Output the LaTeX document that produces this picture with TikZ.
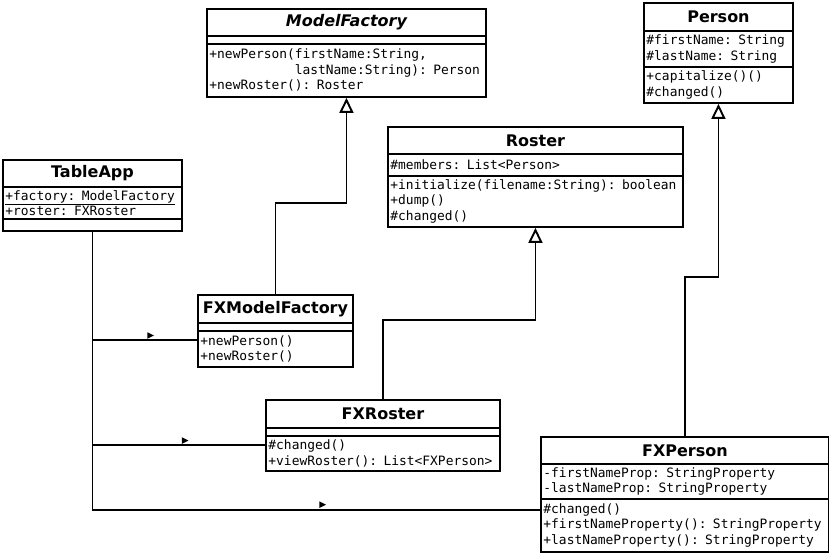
\documentclass[tikz,border=0pt]{standalone}
\usepackage{fontspec}
\setmainfont{DejaVu Sans}
\setmonofont{DejaVu Sans Mono}
\usetikzlibrary{arrows.meta,shapes.geometric}

\newcommand{\ctitle}{\fontsize{16}{18}\selectfont\bfseries}
\newcommand{\cmember}{\fontsize{12.9}{15.5}\selectfont\ttfamily}

\begin{document}
\begin{tikzpicture}[x=1pt,y=-1pt]
    \tikzstyle{compart}=[draw, line width=1.9pt, anchor=north west, inner xsep=2.5pt, inner ysep=0pt]
    \tikzstyle{classname}=[compart, font=\ctitle, align=center]
    \tikzstyle{members}=[compart, font=\cmember, align=left]
    \tikzstyle{conn}=[line width=1.9pt]
    \tikzstyle{inherit}=[conn, -{Triangle[open, fill=white, length=15pt, width=14pt]}]
    \tikzstyle{dirmark}=[isosceles triangle, fill=black, inner sep=0pt, minimum height=6.5pt, minimum width=6.5pt, isosceles triangle stretches]
    \useasboundingbox (0,0) rectangle (829,553);
    % ModelFactory
    \node[classname, text width=274pt, minimum height=27pt] (mfName) at (206,8) {\itshape ModelFactory};
    \node[members, text width=274pt, minimum height=8pt] (mfAttr) at (206,35) {};
    \node[members, text width=274pt, minimum height=53pt] (mfOps) at (206,43) {+newPerson(firstName:String,\\\phantom{+newPerson(}lastName:String): Person\\+newRoster(): Roster};
    % Person
    \node[classname, text width=144pt, minimum height=28pt] (pName) at (643,2) {Person};
    \node[members, text width=144pt, minimum height=36pt] (pAttr) at (643,30) {\#firstName: String\\\#lastName: String};
    \node[members, text width=144pt, minimum height=36pt] (pOps) at (643,66) {+capitalize()()\\\#changed()};
    % TableApp
    \node[classname, text width=174pt, minimum height=27pt] (taName) at (2,159) {TableApp};
    \node[members, text width=174pt, minimum height=32pt] (taAttr) at (2,186) {\underline{+factory: ModelFactory}\\+roster: FXRoster};
    \node[members, text width=174pt, minimum height=12pt] (taOps) at (2,218) {};
    % Roster
    \node[classname, text width=290pt, minimum height=27pt] (rName) at (387,126) {Roster};
    \node[members, text width=290pt, minimum height=22pt] (rAttr) at (387,153) {\#members: List<Person>};
    \node[members, text width=290pt, minimum height=51pt] (rOps) at (387,175) {+initialize(filename:String): boolean\\+dump()\\\#changed()};
    % FXModelFactory
    \node[classname, text width=150pt, minimum height=28pt] (fmName) at (197,294) {FXModelFactory};
    \node[members, text width=150pt, minimum height=8pt] (fmAttr) at (197,322) {};
    \node[members, text width=150pt, minimum height=36pt] (fmOps) at (197,330) {+newPerson()\\+newRoster()};
    % FXRoster
    \node[classname, text width=229pt, minimum height=28pt] (frName) at (265,399) {FXRoster};
    \node[members, text width=229pt, minimum height=8pt] (frAttr) at (265,427) {};
    \node[members, text width=229pt, minimum height=35pt] (frOps) at (265,435) {\#changed()\\+viewRoster(): List<FXPerson>};
    % FXPerson
    \node[classname, text width=283pt, minimum height=27pt] (fpName) at (540,436) {FXPerson};
    \node[members, text width=283pt, minimum height=35pt] (fpAttr) at (540,463) {-firstNameProp: StringProperty\\-lastNameProp: StringProperty};
    \node[members, text width=283pt, minimum height=53pt] (fpOps) at (540,498) {\#changed()\\+firstNameProperty(): StringProperty\\+lastNameProperty(): StringProperty};
    % generalizations
    \draw[inherit] (fmName.north) -- (fmName.north |- 0,203) -| (mfOps.south);
    \draw[inherit] (frName.north) -- (frName.north |- 0,320) -| (rOps.south);
    \draw[inherit] (fpName.north) -- (fpName.north |- 0,277) -| (pOps.south);
    % associations from TableApp
    \coordinate (jFm) at (taOps.south |- 0,340);
    \coordinate (jFr) at (taOps.south |- 0,445);
    \coordinate (jFp) at (taOps.south |- 0,510);
    \draw[conn] (taOps.south) -- (jFp) -- (fpOps.west |- jFp);
    \draw[conn] (jFm) -- (fmOps.west |- jFm);
    \draw[conn] (jFr) -- (frOps.west |- jFr);
    \node[dirmark] (mkFm) at (149.5,335.5) {};
    \node[dirmark] (mkFr) at (184,440.5) {};
    \node[dirmark] (mkFp) at (321.5,504.7) {};
\end{tikzpicture}
\end{document}
